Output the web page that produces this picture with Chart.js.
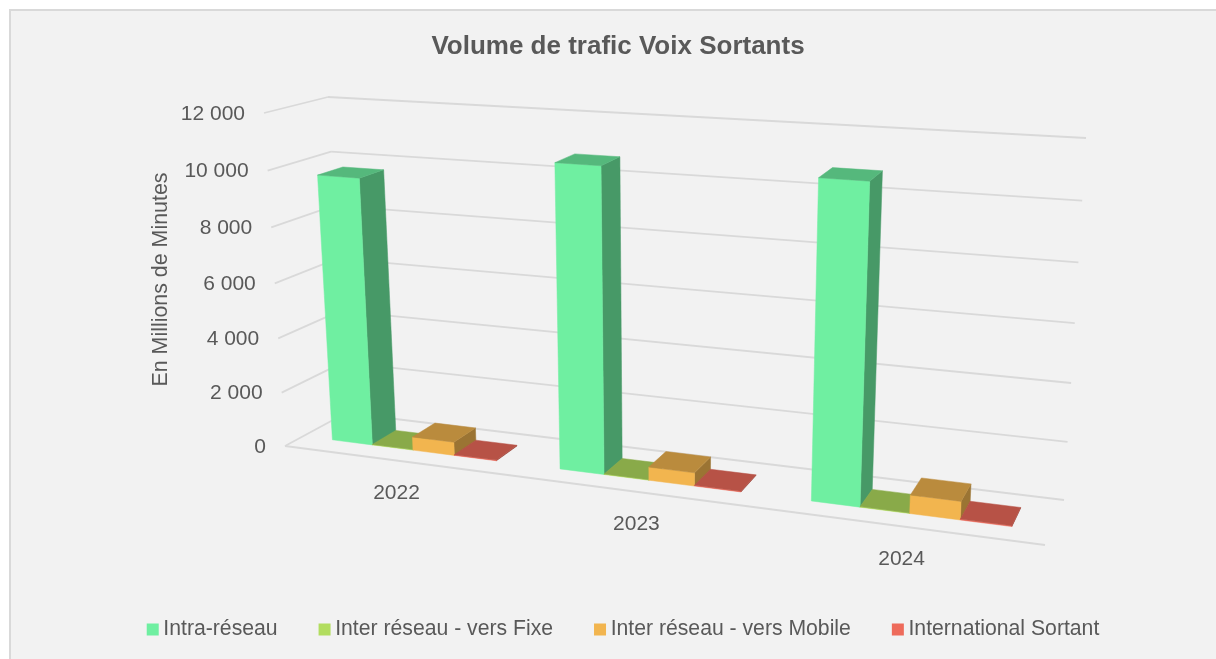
<!DOCTYPE html>
<html lang="fr">
<head>
<meta charset="utf-8">
<title>Volume de trafic Voix Sortants</title>
<script src="https://cdn.jsdelivr.net/npm/chart.js@4"></script>
<style>
  html, body { margin: 0; padding: 0; background: #fff; overflow: hidden; }
  #page { position: relative; width: 1216px; height: 659px; overflow: hidden; }
  #card { position: absolute; left: 9px; top: 9px; width: 1300px; height: 800px; background: #f2f2f2; border: 2px solid #d9d9d9; }
  #chart1 { position: absolute; left: 0; top: 0; }
</style>
</head>
<body>
<div id="page">
  <div id="card"></div>
  <canvas id="chart1" width="1236" height="650"></canvas>
</div>
<script>
const categories = ["2022", "2023", "2024"];
const intraReseau = [9720, 10730, 10820];
const versFixe = [20, 20, 20];
const versMobile = [490, 470, 630];
const international = [25, 25, 30];
const seriesNames = ["Intra-réseau", "Inter réseau - vers Fixe", "Inter réseau - vers Mobile", "International Sortant"];
const seriesColors = ["#6fefa1", "#b2dd5f", "#f2b54f", "#ee6b5b"];

const textColor = "#595959";
const gridColor = "#d9d9d9";

// the box the 3d view is drawn in: [width, height, depth] -> screen
const box = {
  p000: [285, 446], p100: [1045, 545], p010: [264, 113], p110: [1066, 164],
  p001: [346, 413], p101: [1064, 500], p011: [328, 97], p111: [1086, 138]
};
const shrinkU = 0.86;    // perspective along the width
const shrinkV = 0.955;   // perspective along the height
const barDepth = [0.3, 0.71];

function lerp(a, b, t) {
  return [a[0] + (b[0] - a[0]) * t, a[1] + (b[1] - a[1]) * t];
}

function persp(x, k) {
  return x * k / (1 + x * (k - 1));
}

// u, v, w are 0..1 along the width, the height and the depth of the box
function project(u, v, w) {
  const t = persp(u, shrinkU);
  const s = persp(v, shrinkV);
  const front = lerp(lerp(box.p000, box.p100, t), lerp(box.p010, box.p110, t), s);
  const back = lerp(lerp(box.p001, box.p101, t), lerp(box.p011, box.p111, t), s);
  return lerp(front, back, w);
}

function shade(hex, f) {
  const n = parseInt(hex.slice(1), 16);
  return "rgb(" + Math.round((n >> 16) * f) + "," + Math.round(((n >> 8) & 255) * f) + "," + Math.round((n & 255) * f) + ")";
}

function face(ctx, pts, color) {
  ctx.fillStyle = color;
  ctx.strokeStyle = color;
  ctx.lineWidth = 0.5;
  ctx.beginPath();
  pts.forEach((p, i) => i ? ctx.lineTo(p[0], p[1]) : ctx.moveTo(p[0], p[1]));
  ctx.closePath();
  ctx.fill();
  ctx.stroke();
}

function line(ctx, a, b) {
  ctx.beginPath();
  ctx.moveTo(a[0], a[1]);
  ctx.lineTo(b[0], b[1]);
  ctx.stroke();
}

const view3d = {
  id: "view3d",
  afterLayout(chart) {
    // legend is not centred under the title in the original
    chart.legend.left += 8;
    chart.legend.right += 8;
  },
  beforeDatasetsDraw(chart) {
    const ctx = chart.ctx;
    const area = chart.chartArea;
    const yScale = chart.scales.y;
    const xScale = chart.scales.x;
    const frU = x => (x - area.left) / area.width;
    const frV = y => (area.bottom - y) / area.height;

    ctx.save();

    // walls and floor
    ctx.strokeStyle = gridColor;
    ctx.lineWidth = 1.8;
    yScale.ticks.forEach(tick => {
      const v = frV(yScale.getPixelForValue(tick.value));
      line(ctx, project(0, v, 0), project(0, v, 1));
      line(ctx, project(0, v, 1), project(1, v, 1));
    });
    line(ctx, project(0, 0, 0), project(1, 0, 0));

    // tick labels follow the slanted edges
    ctx.fillStyle = textColor;
    ctx.font = "21px 'Liberation Sans'";
    ctx.textBaseline = "middle";
    ctx.textAlign = "right";
    yScale.ticks.forEach(tick => {
      const p = project(0, frV(yScale.getPixelForValue(tick.value)), 0);
      ctx.fillText(tick.label, p[0] - 19, p[1] + 1);
    });
    ctx.textAlign = "center";
    xScale.ticks.forEach((tick, i) => {
      const p = project(frU(xScale.getPixelForTick(i)), 0, 0);
      ctx.fillText(categories[i], p[0], p[1] + 32.5);
    });

    // bars, left to right
    categories.forEach((c, j) => {
      chart.data.datasets.forEach((ds, d) => {
        const el = chart.getDatasetMeta(d).data[j];
        const u0 = frU(el.x - el.width / 2);
        const u1 = frU(el.x + el.width / 2);
        const v0 = frV(el.base);
        const v1 = frV(el.y);
        const w0 = barDepth[0];
        const w1 = barDepth[1];
        const color = seriesColors[d];
        face(ctx, [project(u1, v0, w0), project(u1, v0, w1), project(u1, v1, w1), project(u1, v1, w0)], shade(color, 0.64));
        face(ctx, [project(u0, v0, w0), project(u1, v0, w0), project(u1, v1, w0), project(u0, v1, w0)], color);
        face(ctx, [project(u0, v1, w0), project(u1, v1, w0), project(u1, v1, w1), project(u0, v1, w1)], shade(color, 0.77));
      });
    });

    ctx.restore();
    return false;
  }
};

const ctx1 = document.getElementById("chart1").getContext("2d");
const chart1 = new Chart(ctx1, {
  type: "bar",
  data: {
    labels: categories,
    datasets: [
      { label: seriesNames[0], data: intraReseau, backgroundColor: seriesColors[0] },
      { label: seriesNames[1], data: versFixe, backgroundColor: seriesColors[1] },
      { label: seriesNames[2], data: versMobile, backgroundColor: seriesColors[2] },
      { label: seriesNames[3], data: international, backgroundColor: seriesColors[3] }
    ]
  },
  options: {
    responsive: false,
    animation: false,
    devicePixelRatio: 1,
    categoryPercentage: 0.73,
    barPercentage: 1,
    font: { family: "'Liberation Sans'" },
    plugins: {
      tooltip: { enabled: false },
      title: {
        display: true,
        text: "Volume de trafic Voix Sortants",
        color: textColor,
        font: { family: "'Liberation Sans'", size: 26, weight: "bold" },
        padding: { top: 31, bottom: 51 }
      },
      legend: {
        position: "bottom",
        labels: {
          color: textColor,
          font: { family: "'Liberation Sans'", size: 21.2 },
          usePointStyle: true,
          pointStyle: "rect",
          boxWidth: 0.01,
          boxHeight: 12,
          padding: 47
        }
      }
    },
    scales: {
      x: {
        grid: { display: false },
        border: { display: false },
        ticks: { display: false },
        afterFit: s => { s.height = 126; }
      },
      y: {
        min: 0,
        max: 12000,
        grid: { display: false },
        border: { display: false },
        ticks: {
          display: false,
          stepSize: 2000,
          callback: v => String(v).replace(/\B(?=(\d{3})+$)/g, " ")
        },
        title: {
          display: true,
          text: "En Millions de Minutes",
          color: textColor,
          font: { family: "'Liberation Sans'", size: 21.4 },
          padding: { top: 148, bottom: 0 }
        },
        afterFit: s => { s.width = 285; }
      }
    }
  },
  plugins: [view3d]
});
</script>
</body>
</html>
